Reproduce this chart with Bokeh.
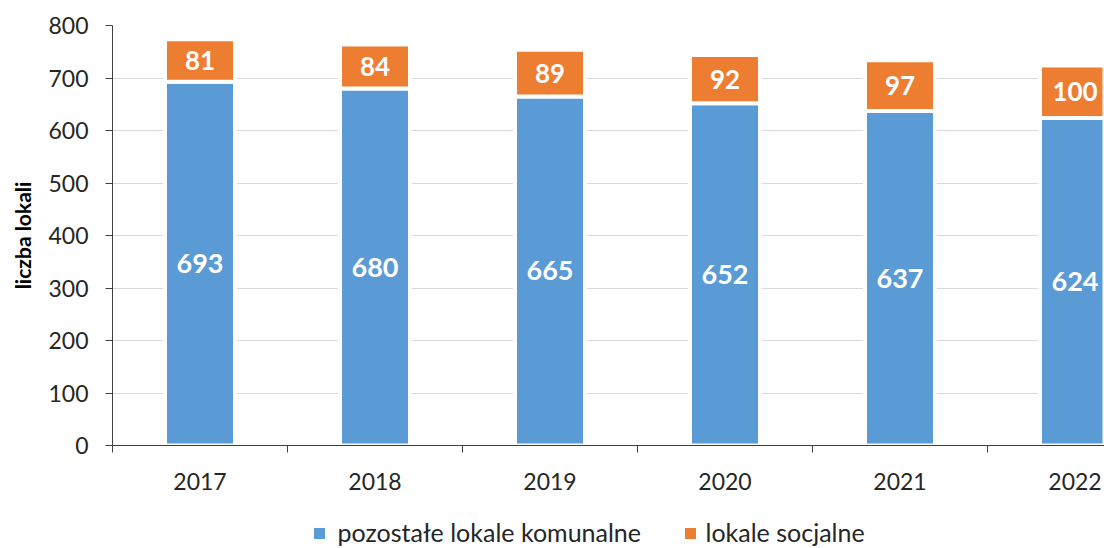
from bokeh.plotting import figure
from bokeh.layouts import column
from bokeh.models import ColumnDataSource, FixedTicker, Range1d
from bokeh.core.properties import value
from bokeh.embed import file_html
from bokeh.resources import INLINE

years = ["2017", "2018", "2019", "2020", "2021", "2022"]
komunalne = [693, 680, 665, 652, 637, 624]
socjalne = [81, 84, 89, 92, 97, 100]
y_ticks = [0, 100, 200, 300, 400, 500, 600, 700, 800]
series_names = ["pozostałe lokale komunalne", "lokale socjalne"]
y_title = "liczba lokali"

BLUE = "#5B9BD5"
ORANGE = "#ED7D31"
FONT = "Lato"

xs = [i + 0.5 for i in range(len(years))]
source = ColumnDataSource(dict(
    x=xs, kom=komunalne, soc=socjalne,
    kom_mid=[k / 2 for k in komunalne],
    soc_mid=[k + s / 2 for k, s in zip(komunalne, socjalne)],
    kom_lbl=[str(v) for v in komunalne],
    soc_lbl=[str(v) for v in socjalne],
))

p = figure(width=1104, height=503, output_backend="svg", toolbar_location=None,
           x_range=Range1d(0, 992 / 175), y_range=Range1d(0, 800),
           min_border_left=112, min_border_right=0, min_border_top=25,
           min_border_bottom=58)
p.outline_line_color = None
p.background_fill_color = "white"

p.vbar_stack(["kom", "soc"], x="x", width=0.4, source=source,
             fill_color=[BLUE, ORANGE], line_color="white", line_width=4)

p.text(x="x", y="kom_mid", text="kom_lbl", source=source, text_color="white",
       text_font=value(FONT), text_font_style="bold", text_font_size="27px",
       text_align="center", text_baseline="middle")
p.text(x="x", y="soc_mid", text="soc_lbl", source=source, text_color="white",
       text_font=value(FONT), text_font_style="bold", text_font_size="26px",
       text_align="center", text_baseline="middle")

# axes
xa = p.xaxis[0]
xa.ticker = FixedTicker(ticks=xs, minor_ticks=list(range(len(years))))
xa.major_label_overrides = {x: y for x, y in zip(xs, years)}
xa.major_tick_out = 0
xa.major_tick_in = 0
xa.minor_tick_out = 7
xa.minor_tick_in = 0
xa.minor_tick_line_color = "#404040"
xa.axis_line_color = "#404040"
xa.major_label_standoff = 20
xa.major_label_text_font = FONT
xa.major_label_text_font_size = "23px"
xa.major_label_text_color = "#262626"

ya = p.yaxis[0]
ya.ticker = FixedTicker(ticks=y_ticks, minor_ticks=[])
ya.major_tick_out = 7
ya.major_tick_in = 0
ya.major_tick_line_color = "#404040"
ya.axis_line_color = "#404040"
ya.major_label_standoff = 17
ya.major_label_text_font = FONT
ya.major_label_text_font_size = "23px"
ya.major_label_text_color = "#262626"
ya.axis_label = y_title
ya.axis_label_text_font = FONT
ya.axis_label_text_font_style = "bold"
ya.axis_label_text_font_size = "21px"
ya.axis_label_text_color = "#000000"
ya.axis_label_standoff = 10

p.xgrid.grid_line_color = None
p.ygrid.grid_line_color = "#d9d9d9"
p.ygrid.grid_line_width = 1

# legend strip below the chart (page-pixel coordinates; frame aligned to main frame)
lg = figure(width=1104, height=45, output_backend="svg", toolbar_location=None,
            x_axis_type=None, y_axis_type=None, min_border=0,
            x_range=Range1d(112, 1104), y_range=Range1d(0, 45))
lg.outline_line_color = None
lg.xgrid.grid_line_color = None
lg.ygrid.grid_line_color = None
leg_box_x = [319, 690]
leg_text_x = [337, 705]
lg.rect(x=leg_box_x, y=[15, 15], width=11, height=11,
        fill_color=[BLUE, ORANGE], line_color=None)
lg.text(x=leg_text_x, y=[17, 17], text=series_names, text_color="#262626",
        text_font=value(FONT), text_font_size="25px",
        text_align="left", text_baseline="middle")

open("out.html", "w").write(file_html(column(p, lg, spacing=0), INLINE))
